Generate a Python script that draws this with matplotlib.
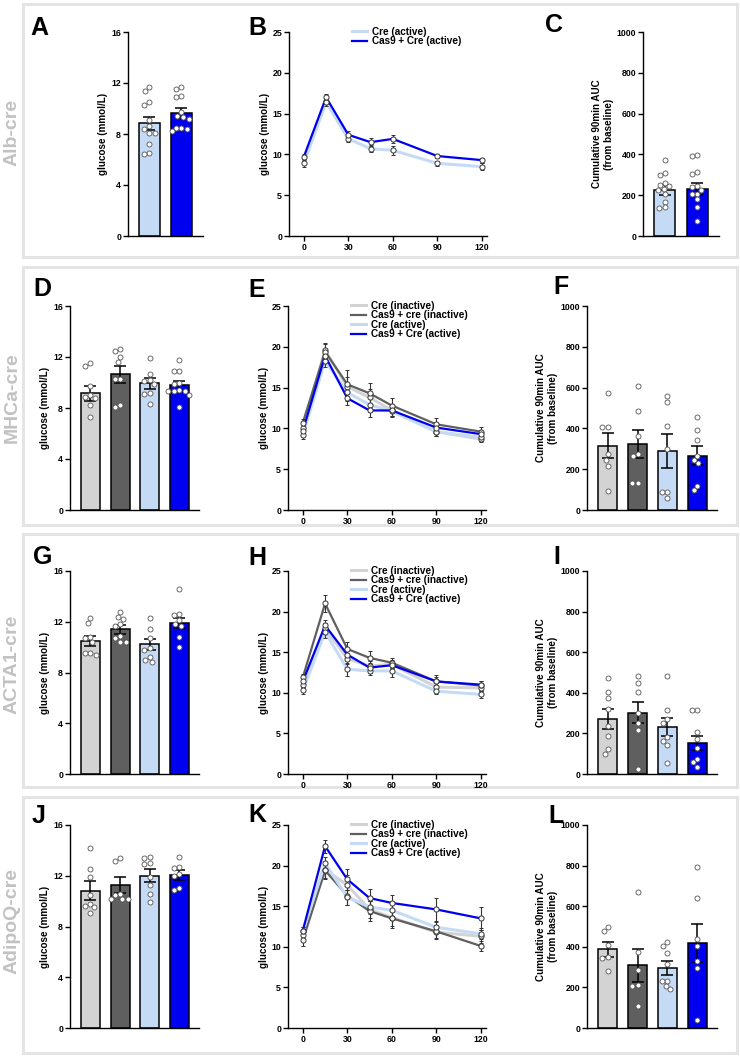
import numpy as np
import matplotlib
matplotlib.use('Agg')
import matplotlib.pyplot as plt
from matplotlib.patches import Rectangle

plt.rcParams['font.family'] = ['Liberation Sans', 'DejaVu Sans']
plt.rcParams['font.weight'] = 'bold'
plt.rcParams['axes.labelweight'] = 'bold'

# ---------------- data ----------------
row_labels = ['Alb-cre', 'MHCa-cre', 'ACTA1-cre', 'AdipoQ-cre']
panel_letters = list('ABCDEFGHIJKL')
groups4 = ['Cre (inactive)', 'Cas9 + cre (inactive)', 'Cre (active)', 'Cas9 + Cre (active)']
groups2 = ['Cre (active)', 'Cas9 + Cre (active)']
time_min = [0, 15, 30, 45, 60, 90, 120]

# Alb-cre
alb_fast_mean = [8.84, 9.68]
alb_fast_sem = [0.52, 0.39]
alb_fast_pts = [[11.7, 11.4, 10.5, 10.3, 9.1, 8.6, 8.4, 8.1, 8.1, 7.2, 6.5, 6.4],
                [11.7, 11.5, 11.0, 10.9, 9.7, 9.4, 9.3, 9.2, 8.5, 8.5, 8.4, 8.2]]
alb_gtt_mean = [[8.9, 16.4, 11.9, 10.7, 10.5, 8.9, 8.5],
                [9.7, 17.0, 12.4, 11.5, 11.9, 9.8, 9.3]]
alb_gtt_sem = [[0.45, 0.5, 0.4, 0.45, 0.55, 0.35, 0.4],
               [0.3, 0.35, 0.45, 0.5, 0.45, 0.3, 0.3]]
alb_auc_mean = [227, 230]
alb_auc_sem = [25, 30]
alb_auc_pts = [[375, 308, 298, 260, 250, 245, 232, 225, 205, 168, 140, 135],
               [398, 390, 312, 302, 245, 240, 225, 207, 207, 180, 140, 72]]

# MHCa-cre
mhc_fast_mean = [9.15, 10.64, 9.93, 9.78]
mhc_fast_sem = [0.58, 0.65, 0.45, 0.36]
mhc_fast_pts = [[11.5, 11.3, 9.7, 9.0, 8.9, 8.8, 8.2, 7.3],
                [12.6, 12.5, 12.0, 11.6, 10.3, 10.3, 8.2, 8.1],
                [11.9, 10.7, 10.2, 10.1, 9.9, 9.2, 9.1, 8.3],
                [11.8, 10.9, 10.9, 10.0, 9.9, 9.4, 9.3, 9.3, 9.3, 9.0, 8.1]]
mhc_gtt_mean = [[10.1, 19.6, 15.1, 13.8, 12.2, 9.6, 8.7],
                [10.7, 19.4, 15.4, 14.3, 12.8, 10.5, 9.6],
                [9.2, 18.3, 14.4, 12.9, 12.1, 9.6, 8.9],
                [9.7, 18.9, 13.7, 12.2, 12.2, 10.1, 9.3]]
mhc_gtt_sem = [[0.5, 0.9, 1.2, 1.0, 0.7, 0.5, 0.4],
               [0.5, 1.0, 1.7, 1.3, 0.9, 0.8, 0.6],
               [0.5, 0.8, 1.0, 0.9, 0.7, 0.5, 0.5],
               [0.4, 0.8, 0.8, 0.8, 0.7, 0.5, 0.4]]
mhc_auc_mean = [315, 322, 290, 267]
mhc_auc_sem = [61, 68, 83, 47]
mhc_auc_pts = [[572, 406, 406, 273, 247, 216, 93],
               [610, 485, 363, 273, 263, 130, 130],
               [558, 528, 410, 299, 89, 86, 57],
               [455, 390, 341, 265, 244, 228, 120, 98]]

# ACTA1-cre
acta_fast_mean = [10.47, 11.39, 10.21, 11.91]
acta_fast_sem = [0.40, 0.35, 0.45, 0.40]
acta_fast_pts = [[12.3, 11.9, 10.8, 10.7, 10.4, 9.5, 9.5, 9.4],
                 [12.8, 12.4, 12.2, 11.8, 11.7, 10.9, 10.7, 10.4, 10.4],
                 [12.3, 11.4, 10.7, 9.9, 9.8, 9.2, 9.0, 8.8],
                 [14.6, 12.6, 12.5, 12.1, 11.8, 11.7, 10.8, 10.0]]
acta_gtt_mean = [[11.0, 18.0, 14.2, 13.3, 13.5, 10.7, 10.6],
                 [11.9, 21.0, 15.4, 14.3, 13.7, 11.4, 10.9],
                 [10.3, 17.5, 12.9, 12.7, 12.7, 10.2, 9.8],
                 [11.4, 18.3, 14.7, 13.1, 13.4, 11.4, 11.0]]
acta_gtt_sem = [[0.4, 0.6, 0.7, 0.6, 0.5, 0.5, 0.4],
                [0.4, 1.0, 0.9, 0.8, 0.6, 0.8, 0.5],
                [0.4, 0.7, 0.8, 0.5, 0.7, 0.4, 0.4],
                [0.4, 0.7, 0.7, 0.6, 0.5, 0.5, 0.4]]
acta_auc_mean = [272, 301, 231, 152]
acta_auc_sem = [50, 52, 44, 36]
acta_auc_pts = [[471, 406, 373, 321, 234, 185, 124, 100],
                [484, 447, 406, 300, 250, 218, 25],
                [483, 313, 270, 250, 180, 165, 145, 54],
                [313, 313, 205, 172, 128, 74, 57, 34]]

# AdipoQ-cre
adipo_fast_mean = [10.83, 11.28, 12.01, 12.07]
adipo_fast_sem = [0.78, 0.65, 0.50, 0.38]
adipo_fast_pts = [[14.2, 12.5, 11.9, 10.5, 9.8, 9.6, 9.5, 9.1],
                  [13.4, 13.2, 10.6, 10.5, 10.2, 10.2, 10.2],
                  [13.5, 13.4, 13.0, 12.9, 11.9, 11.3, 10.6, 9.9],
                  [13.5, 12.7, 12.6, 12.1, 12.0, 11.0, 10.9]]
adipo_gtt_mean = [[11.5, 19.5, 17.6, 14.6, 13.6, 11.8, 11.3],
                  [10.8, 19.4, 16.3, 14.4, 13.5, 11.9, 10.1],
                  [11.9, 20.3, 16.1, 14.9, 14.5, 12.4, 11.6],
                  [12.0, 22.4, 18.3, 16.0, 15.4, 14.6, 13.5]]
adipo_gtt_sem = [[0.5, 1.0, 1.2, 1.0, 1.0, 0.8, 0.8],
                 [0.7, 1.0, 1.2, 1.2, 1.2, 0.8, 0.6],
                 [0.5, 0.8, 0.9, 0.8, 0.9, 0.6, 0.7],
                 [0.4, 0.8, 1.3, 1.1, 1.0, 1.4, 1.4]]
adipo_auc_mean = [389, 308, 295, 418]
adipo_auc_sem = [37, 82, 33, 93]
adipo_auc_pts = [[500, 479, 410, 350, 345, 279],
                 [669, 374, 287, 213, 205, 110],
                 [423, 403, 369, 315, 233, 230, 207, 192],
                 [795, 639, 439, 406, 328, 295, 38]]

# ---------------- style ----------------
C_LGRAY = '#d3d3d3'
C_DGRAY = '#5f5f5f'
C_LBLUE = '#c5dbf5'
C_BLUE = '#0000f0'
cols4 = [C_LGRAY, C_DGRAY, C_LBLUE, C_BLUE]
cols2 = [C_LBLUE, C_BLUE]
lws4 = [2.2, 1.6, 2.2, 1.6]
lws2 = [2.2, 1.6]

W, H = 740, 1056
fig = plt.figure(figsize=(W / 100, H / 100), dpi=100)
fig.patch.set_facecolor('white')


def add_ax(x0, x1, yt, yb):
    ax = fig.add_axes([x0 / W, 1 - yb / H, (x1 - x0) / W, (yb - yt) / H])
    ax.patch.set_visible(False)
    for s in ['top', 'right']:
        ax.spines[s].set_visible(False)
    for s in ['left', 'bottom']:
        ax.spines[s].set_linewidth(1.0)
    ax.tick_params(length=3.5, width=1.0, labelsize=6.3, pad=1.5)
    return ax


def swarm(vals, xppu, yppu, diam=5.4):
    vals = np.asarray(vals, float)
    order = np.argsort(-vals)
    cands = sorted(np.arange(-40, 40.01, 0.5), key=lambda c: (abs(c), c))
    placed = []
    offs = np.zeros(len(vals))
    for i in order:
        y = vals[i] * yppu
        for c in cands:
            if all((c - px) ** 2 + (y - py) ** 2 >= diam ** 2 for px, py in placed):
                placed.append((c, y))
                offs[i] = c / xppu
                break
    return offs


def bar_panel(ax, means, sems, pts, colors, ymax, yticks, ylabel, xlim):
    x = np.arange(len(means))
    ax.bar(x, means, width=0.64, color=colors, edgecolor='black', linewidth=1.1, zorder=2)
    ax.errorbar(x, means, yerr=sems, fmt='none', ecolor='black', elinewidth=1.1,
                capsize=4.5, capthick=1.1, zorder=3)
    ax.set_xlim(*xlim)
    ax.set_ylim(0, ymax)
    bb = ax.get_position()
    xppu = bb.width * W / (xlim[1] - xlim[0])
    yppu = bb.height * H / ymax
    for xi, p in zip(x, pts):
        off = swarm(p, xppu, yppu)
        ax.scatter(xi + off, p, s=13, facecolor='white', edgecolor='#555555',
                   linewidth=0.6, zorder=4, clip_on=False)
    ax.set_xticks([])
    ax.set_yticks(yticks)
    ax.set_ylabel(ylabel, fontsize=7.1, labelpad=2)


def line_panel(ax, means, sems, colors, lws, labels):
    for m, c, lw, lab in zip(means, colors, lws, labels):
        ax.plot(time_min, m, color=c, lw=lw, label=lab, zorder=2)
    for m, s in zip(means, sems):
        ax.errorbar(time_min, m, yerr=s, fmt='o', ms=3.7, mfc='white', mec='#333333',
                    mew=0.7, ecolor='#333333', elinewidth=0.8, capsize=1.5,
                    capthick=0.8, zorder=3)
    ax.set_xlim(-10, 123.5)
    ax.set_ylim(0, 25)
    ax.set_xticks([0, 30, 60, 90, 120])
    ax.set_yticks([0, 5, 10, 15, 20, 25])
    ax.set_ylabel('glucose (mmol/L)', fontsize=7.1, labelpad=1.5)
    ax.legend(loc='upper left', bbox_to_anchor=(0.32, 1.025), frameon=False,
              fontsize=7.2, borderpad=0, borderaxespad=0, handlelength=1.5,
              handletextpad=0.5, labelspacing=-0.05)


# ---------------- row boxes and labels ----------------
boxes = [(4, 257), (267, 525), (534, 787), (797, 1053)]
label_y = [132, 398, 664, 921]
for (yt, yb), lab, ly in zip(boxes, row_labels, label_y):
    fig.add_artist(Rectangle((23 / W, 1 - yb / H), (737 - 23) / W, (yb - yt) / H,
                             transform=fig.transFigure, facecolor='white',
                             edgecolor='#e4e4e4', linewidth=2.2, zorder=-5))
    fig.text(12 / W, 1 - ly / H, lab, rotation=90, ha='center', va='center',
             fontsize=14, color='#c2c2c2', fontweight='bold')

auc_label = 'Cumulative 90min AUC\n(from baseline)'
xl2 = (-0.66, 1.67)
xl4 = (-0.69, 3.66)

# Row 1
axA = add_ax(128, 203, 32, 236)
bar_panel(axA, alb_fast_mean, alb_fast_sem, alb_fast_pts, cols2, 16, [0, 4, 8, 12, 16],
          'glucose (mmol/L)', xl2)
axB = add_ax(289, 487, 32, 236)
line_panel(axB, alb_gtt_mean, alb_gtt_sem, cols2, lws2, groups2)
axC = add_ax(643, 719, 32, 236)
bar_panel(axC, alb_auc_mean, alb_auc_sem, alb_auc_pts, cols2, 1000,
          [0, 200, 400, 600, 800, 1000], auc_label, xl2)

rows = [
    (mhc_fast_mean, mhc_fast_sem, mhc_fast_pts, mhc_gtt_mean, mhc_gtt_sem,
     mhc_auc_mean, mhc_auc_sem, mhc_auc_pts, 306, 510),
    (acta_fast_mean, acta_fast_sem, acta_fast_pts, acta_gtt_mean, acta_gtt_sem,
     acta_auc_mean, acta_auc_sem, acta_auc_pts, 571, 774),
    (adipo_fast_mean, adipo_fast_sem, adipo_fast_pts, adipo_gtt_mean, adipo_gtt_sem,
     adipo_auc_mean, adipo_auc_sem, adipo_auc_pts, 825, 1028),
]
for fm, fs, fp, gm, gs, am, asem, ap, yt, yb in rows:
    a1 = add_ax(70, 199, yt, yb)
    bar_panel(a1, fm, fs, fp, cols4, 16, [0, 4, 8, 12, 16], 'glucose (mmol/L)', xl4)
    a2 = add_ax(288, 486, yt, yb)
    line_panel(a2, gm, gs, cols4, lws4, groups4)
    a3 = add_ax(587, 717, yt, yb)
    bar_panel(a3, am, asem, ap, cols4, 1000, [0, 200, 400, 600, 800, 1000], auc_label, xl4)

# ---------------- panel letters ----------------
letter_pos = [(30, 35), (248, 35), (545, 32),
              (33, 296), (248, 297), (553, 294),
              (33, 564), (248, 565), (553, 564),
              (32, 823), (248, 822), (548, 823)]
for let, (lx, ly) in zip(panel_letters, letter_pos):
    fig.text(lx / W, 1 - ly / H, let, ha='left', va='baseline', fontsize=18,
             fontweight='bold', color='black')

fig.savefig('out.png', dpi=100, facecolor='white')
